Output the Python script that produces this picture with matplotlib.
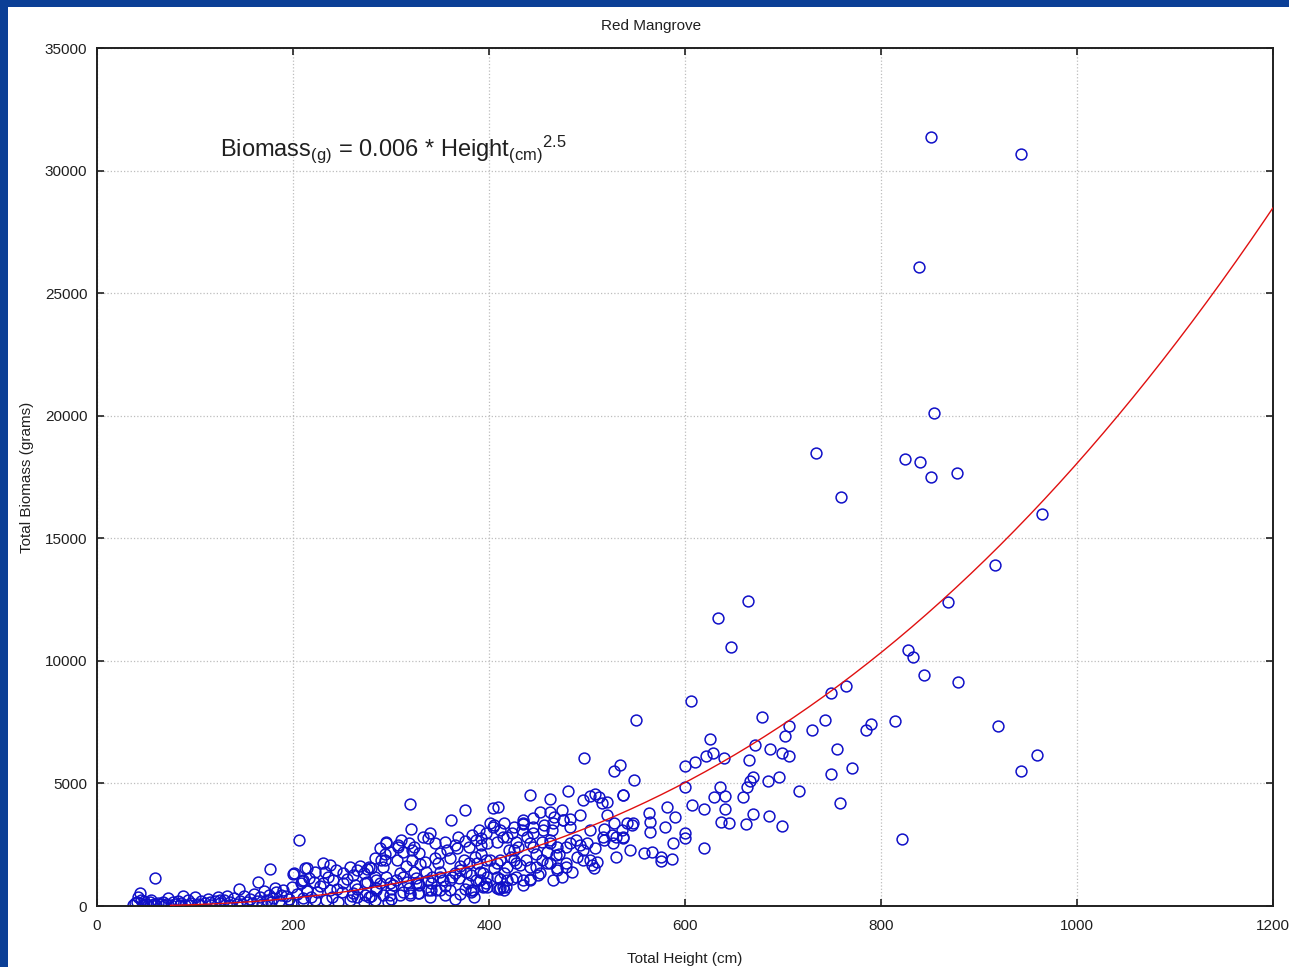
"""Red Mangrove: total biomass vs total height, with the power-law fit."""

import matplotlib

matplotlib.use("Agg")
import matplotlib.pyplot as plt
import numpy as np
from matplotlib.patches import Rectangle

plt.rcParams["font.family"] = ["Liberation Sans", "DejaVu Sans"]
plt.rcParams["mathtext.fontset"] = "custom"
plt.rcParams["mathtext.rm"] = "Liberation Sans"
plt.rcParams["mathtext.it"] = "Liberation Sans"

# saplings, height < 220 cm
sapling_height = [37, 39, 41, 42, 44, 45, 47, 48, 50, 52, 54, 55, 56, 58, 59, 60, 62,
                  65, 67, 68, 70, 72, 75, 78, 80, 83, 85, 86, 88, 90, 93, 95, 96, 100,
                  103, 105, 106, 110, 113, 115, 116, 120, 123, 125, 126, 130, 133, 135,
                  136, 140, 143, 145, 146, 148, 150, 153, 156, 158, 160, 163, 164, 166,
                  168, 170, 173, 176, 177, 178, 180, 182, 183, 186, 188, 190, 193, 196,
                  198, 199, 200, 201, 204, 206, 208, 209, 210, 212, 214, 216, 218]
sapling_biomass = [60, 120, 170, 380, 550, 260, 40, 200, 90, 30, 170, 250, 60, 100, 1140,
                   40, 140, 70, 180, 30, 90, 310, 50, 150, 80, 200, 30, 120, 400, 60, 250,
                   50, 140, 380, 90, 40, 220, 130, 300, 150, 60, 200, 380, 250, 120, 260,
                   400, 60, 150, 330, 80, 690, 220, 100, 410, 170, 300, 120, 500, 200, 960,
                   380, 100, 620, 250, 450, 1500, 150, 320, 720, 560, 200, 450, 650, 400,
                   280, 120, 790, 1290, 1330, 480, 2680, 950, 1000, 200, 1530, 620, 1130, 350]

# mid-size trees, 210-400 cm
mid_height = [231, 238, 258, 268, 280, 284, 294, 306, 321, 335, 345, 360, 374, 386, 397,
              289, 299, 312, 329, 350, 357, 367, 380, 392, 295, 307, 323, 368, 387, 392,
              397, 319, 375, 361, 320, 340, 333, 338,
              214, 222, 233, 244, 251, 261, 272, 284, 295, 309, 323, 336, 350, 365, 377, 391,
              210, 221, 231, 241, 251, 263, 275, 289, 302, 316, 328, 341, 353, 369, 379, 391,
              214, 224, 238, 250, 261, 273, 285, 299, 312, 328, 341, 350, 384, 382,
              210, 222, 234, 246, 258, 272, 284, 297, 319, 329,
              228, 236, 245, 255, 265, 275, 285, 292, 300, 305, 315, 318, 325, 330, 338,
              342, 348, 355, 362, 370, 375, 382, 388, 395, 398, 340, 355, 370, 385, 365,
              300, 280, 260, 240, 310, 318, 345, 355, 375, 383, 390, 365]
mid_biomass = [1760, 1670, 1600, 1630, 1530, 1940, 1870, 1870, 1870, 1810, 1940, 1940, 1870,
               2010, 1870, 2350, 2210, 2210, 2150, 2150, 2280, 2350, 2420, 2490, 2620, 2490,
               2420, 2800, 2690, 2760, 2960, 4160, 3910, 3510, 3150, 2960, 2800, 2760,
               1530, 1400, 1400, 1470, 1330, 1260, 1330, 1190, 1190, 1330, 1400, 1400, 1400,
               1330, 1400, 1400,
               1060, 990, 920, 1060, 920, 850, 990, 920, 850, 990, 920, 920, 1060, 1130, 920,
               1060,
               650, 580, 650, 580, 510, 450, 650, 450, 580, 510, 650, 650, 650, 580,
               310, 240, 240, 170, 240, 170, 240, 170, 450, 510,
               800, 1200, 700, 1100, 700, 1500, 750, 1600, 700, 1050, 1650, 750, 1150, 1700,
               650, 1200, 1750, 800, 1200, 1650, 700, 1250, 1750, 800, 1200, 350, 450, 500,
               380, 300, 300, 400, 420, 380, 2700, 2550, 2550, 2600, 2650, 2900, 3100, 2500]

# tall trees, 400-600 cm
tall_height = [404, 409, 442, 462, 481, 496, 503, 508, 512, 515, 520, 537, 582,
               435, 435, 445, 452, 462, 466, 474, 475, 483, 493, 520, 546, 541, 563, 564,
               590, 580, 405, 415, 411, 423, 434, 445, 456, 464, 483, 503, 517, 528, 536,
               525, 530, 537, 564, 588, 558, 566, 575, 576, 587,
               398, 408, 418, 428, 439, 445, 454, 462, 469, 483, 493, 500, 508, 517, 490,
               496, 505, 507, 510, 485, 474, 469, 462, 454, 442, 442, 450, 432, 422, 411,
               401, 405, 415, 423, 411, 410, 415, 417, 398, 394, 435, 425, 459, 468, 425,
               479, 497, 528, 534, 548, 550, 537, 404]
tall_biomass = [4000, 4050, 4520, 4350, 4690, 4320, 4480, 4550, 4460, 4210, 4250, 4510, 4050,
                3500, 3340, 3570, 3840, 3840, 3640, 3910, 3500, 3530, 3730, 3730, 3300, 3370,
                3800, 3410, 3640, 3230, 3300, 3370, 3100, 2960, 3100, 3230, 3300, 3100, 3230,
                3100, 3160, 3370, 3100, 2890, 2820, 2760, 3010, 2580, 2170, 2210, 2010, 1830,
                1900,
                2550, 2620, 2820, 2620, 2820, 2420, 2620, 2690, 2420, 2550, 2480, 2550, 2350,
                2690, 2010, 1870, 1670, 1530, 1800, 1400, 1190, 1530, 1740, 1870, 1600, 1120,
                1260, 1670, 2010, 1870, 1870, 1530, 1330, 1120, 1120, 710, 670, 780, 780, 1330,
                1060, 1870, 2210, 2080, 2280, 1600, 6040, 5500, 5750, 5140, 7590, 4530, 3230]

# crowded core of the cloud, 265-550 cm
core_height = [265, 278, 290, 295, 307, 321, 294, 273, 285, 299, 312, 326, 338, 350, 360,
               370, 380, 392, 387, 397, 265, 278, 292, 309, 319, 329, 346, 360, 382, 394,
               408, 411, 401, 414, 425, 435, 445, 455, 465, 476, 420, 430, 442, 448, 462,
               471, 479, 489, 408, 418, 428, 438, 448, 459, 469, 479, 408, 418, 428, 442,
               452, 465, 414, 435, 496, 503, 516, 527, 537, 530, 544, 547]
core_biomass = [1460, 1600, 1870, 2550, 2420, 2280, 2140, 920, 1060, 920, 1190, 920, 1060,
                1190, 1060, 1460, 1740, 2140, 1060, 920, 380, 380, 440, 440, 510, 850, 650,
                650, 650, 780, 720, 720, 3370, 2820, 3230, 3370, 2960, 3100, 3370, 3500,
                2280, 2420, 2550, 2140, 2550, 2140, 2420, 2690, 1740, 1600, 1740, 1870, 1600,
                1740, 1460, 1740, 1190, 1060, 1190, 1060, 1330, 1060, 780, 850, 2280, 1870,
                2820, 2550, 2820, 2010, 2280, 3370]

# large trees, 600 cm and over
large_height = [600, 610, 606, 621, 629, 625, 640, 634, 647, 664, 665, 671, 679, 687, 699,
                706, 706, 702, 730, 743, 749, 755, 764, 759, 734, 814, 790, 785, 828, 833,
                844, 879, 868, 916, 964, 919, 959, 943, 770, 749, 669, 666, 663, 685, 696,
                716, 636, 600, 659, 630, 641, 758, 607, 619, 641, 669, 686, 637, 645, 662,
                699, 600, 600, 619, 821, 851, 943, 839, 854, 824, 840, 878, 851]
large_biomass = [5710, 5870, 8360, 6120, 6240, 6810, 6040, 11750, 10560, 12440, 5950, 6570,
                 7710, 6400, 6240, 6120, 7340, 6930, 7180, 7590, 8690, 6400, 8970, 16680,
                 18470, 7540, 7420, 7180, 10440, 10150, 9420, 9130, 12400, 13910, 15990, 7340,
                 6160, 5510, 5630, 5380, 5260, 5100, 4850, 5100, 5260, 4690, 4850, 4850, 4440,
                 4440, 4490, 4200, 4120, 3960, 3960, 3750, 3670, 3430, 3380, 3340, 3260, 2990,
                 2760, 2370, 2730, 31360, 30670, 26060, 20100, 18230, 18110, 17660, 17490]

# fitted power law drawn as the red curve
FIT_A = 0.000571
FIT_B = 2.5
FIT_RANGE = (75, 1200)

height = np.array(sapling_height + mid_height + tall_height + core_height + large_height,
                  dtype=float)
biomass = np.array(sapling_biomass + mid_biomass + tall_biomass + core_biomass + large_biomass,
                   dtype=float)

fig = plt.figure(figsize=(12.89, 9.67), dpi=100, facecolor="#0b3f96")
fig.patches.append(Rectangle((8 / 1289, 0), 1, 1 - 7 / 967, transform=fig.transFigure,
                             facecolor="white", edgecolor="none", zorder=-5))

ax = fig.add_axes([97 / 1289, 61 / 967, 1176 / 1289, 858 / 967])
ax.set_facecolor("white")

ax.plot(height, biomass, linestyle="none", marker="o", markersize=7.8,
        markerfacecolor="none", markeredgecolor="#1010c8", markeredgewidth=1.1, zorder=2)

hh = np.linspace(*FIT_RANGE, 300)
ax.plot(hh, FIT_A * hh ** FIT_B, color="#e01010", linewidth=1.0, zorder=3)

ax.set_xlim(0, 1200)
ax.set_ylim(0, 35000)
ax.set_xticks(np.arange(0, 1201, 200))
ax.set_yticks(np.arange(0, 35001, 5000))
ax.grid(True, linestyle=":", color="#bdbdbd", linewidth=0.9)
ax.tick_params(direction="in", length=5, width=1.2, top=True, right=True,
               labelsize=11, colors="#202020", pad=9)
ax.tick_params(axis="y", pad=7)
for sp in ax.spines.values():
    sp.set_linewidth(1.4)
    sp.set_color("#202020")

fig.text(651 / 1289, 1 - 26 / 967, "Red Mangrove", fontsize=11, color="#202020",
         ha="center", va="center")
ax.set_xlabel("Total Height (cm)", fontsize=11, labelpad=14, color="#202020")
ax.set_ylabel("Total Biomass (grams)", fontsize=11, labelpad=8, color="#202020")

ax.text(125, 30580,
        r"Biomass$_{\mathrm{(g)}}$ = 0.006 * Height$_{\mathrm{(cm)}}{}^{\mathrm{2.5}}$",
        fontsize=17, color="#202020", ha="left", va="baseline")

fig.savefig("out.png", dpi=100, facecolor=fig.get_facecolor())
